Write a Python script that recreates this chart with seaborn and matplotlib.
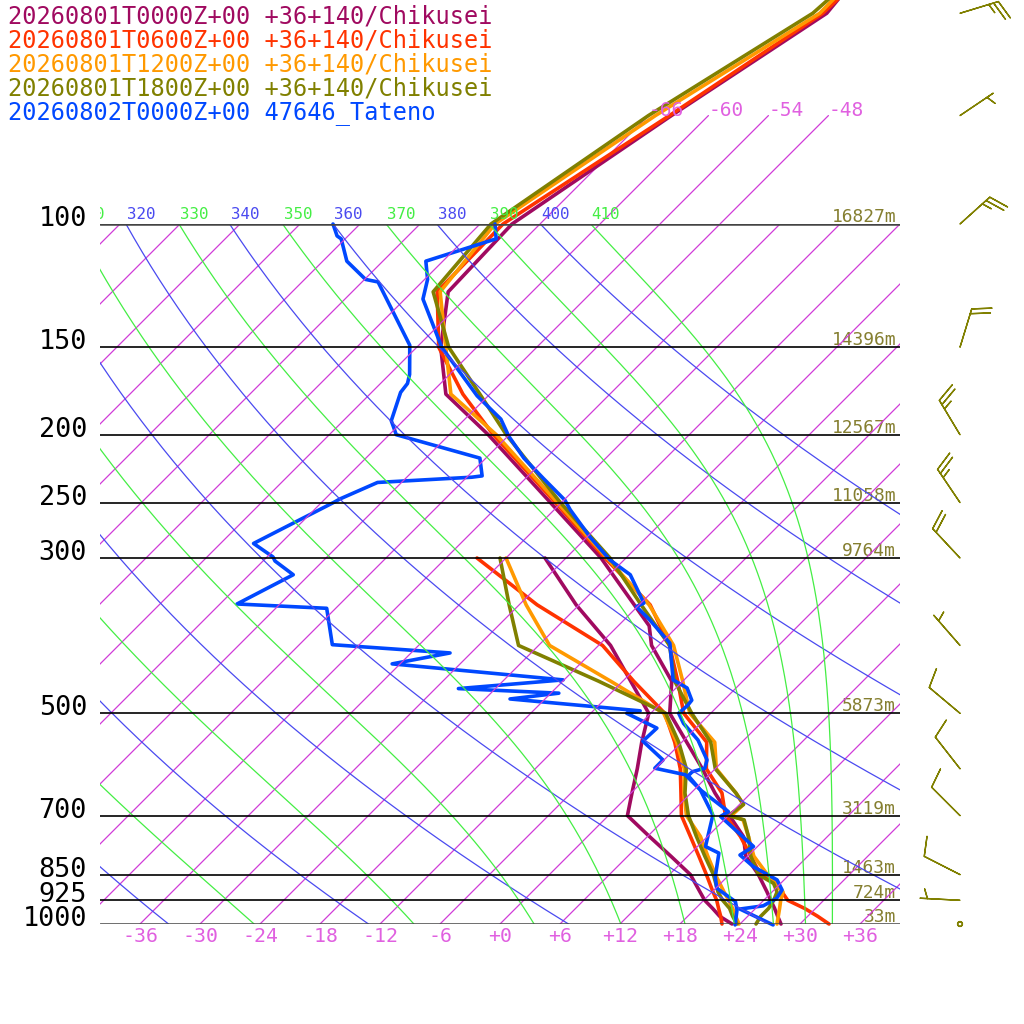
import numpy as np
import matplotlib
matplotlib.use("Agg")
import matplotlib.pyplot as plt
import seaborn as sns
from matplotlib.transforms import Bbox, TransformedBbox

# ---------------- data ----------------
run_names = ["20260801T0000Z+00 +36+140/Chikusei",
             "20260801T0600Z+00 +36+140/Chikusei",
             "20260801T1200Z+00 +36+140/Chikusei",
             "20260801T1800Z+00 +36+140/Chikusei",
             "20260802T0000Z+00 47646_Tateno"]
run_colors = ["#a00a60", "#ff3300", "#ff9900", "#808000", "#0048ff"]

# model temperature profiles (hPa, degC)
t00_p = [1000, 975, 950, 925, 900, 850, 800, 750, 700, 650, 600, 550, 500, 450, 400, 375,
         300, 250, 200, 175, 150, 125, 100, 70, 50, 30]
t00_t = [28.1, 27.0, 25.9, 24.7, 23.5, 20.9, 17.8, 15.6, 12.1, 8.4, 4.7, 0.5, -4.1, -7.1, -12.7, -14.9,
         -26.5, -37.1, -50.1, -58.4, -63.6, -68.4, -68.8, -63.7, -58.4, -61.1]
t06_p = [1000, 975, 950, 925, 900, 875, 850, 800, 750, 700, 650, 600, 550, 500, 450, 400, 350,
         300, 250, 200, 175, 150, 125, 100, 70, 50, 30]
t06_t = [32.9, 31.0, 28.9, 26.4, 25.0, 23.6, 21.1, 18.3, 15.3, 11.7, 9.1, 5.1, 2.5, -2.7, -6.5, -10.9, -16.9,
         -26.1, -36.6, -49.6, -56.7, -63.8, -69.5, -69.7, -63.9, -58.8, -57.9]
t12_p = [1000, 950, 925, 900, 850, 800, 750, 710, 700, 675, 650, 600, 550, 500, 450, 400, 350,
         300, 250, 200, 175, 150, 125, 100, 70, 50, 30]
t12_t = [27.7, 26.4, 25.7, 25.1, 21.8, 18.6, 16.1, 13.9, 12.3, 12.4, 10.5, 6.1, 3.3, -2.1, -6.0, -10.5, -17.0,
         -25.9, -36.4, -49.3, -57.9, -63.1, -69.2, -70.5, -65.3, -59.1, -59.4]
t18_p = [1000, 975, 950, 925, 900, 875, 850, 800, 750, 710, 700, 675, 650, 600, 550, 500, 450, 400, 350,
         300, 250, 200, 175, 150, 125, 100, 70, 50, 30]
t18_t = [25.6, 25.3, 25.3, 25.0, 24.5, 23.3, 20.9, 18.3, 16.1, 14.0, 12.0, 12.4, 10.5, 6.0, 2.9, -1.9, -6.8, -10.9, -17.8,
         -25.6, -36.1, -48.3, -55.0, -62.8, -69.9, -70.9, -66.0, -59.8, -57.8]

# model dewpoint profiles (1000-300 hPa)
td_p = [1000, 975, 950, 925, 900, 850, 800, 750, 700, 650, 600, 550, 500, 450, 400, 350, 300]
t00_td = [23.2, 21.2, 19.7, 18.1, 16.8, 14.1, 10.3, 6.2, 1.9, 0.1, -1.8, -4.0, -6.2, -11.2, -16.8, -24.3, -32.1]
t06_td = [22.2, 21.3, 20.3, 19.3, 18.1, 15.7, 13.1, 10.3, 7.3, 5.0, 2.5, -0.7, -4.6, -10.9, -17.6, -28.2, -38.9]
t12_td = [23.9, 22.8, 21.7, 20.5, 19.2, 16.6, 14.0, 11.3, 7.8, 5.3, 2.9, -0.5, -4.7, -13.2, -22.9, -29.3, -36.0]
t18_td = [23.7, 22.5, 21.4, 19.9, 18.6, 16.4, 13.7, 10.9, 8.0, 5.4, 3.1, -0.3, -4.5, -14.4, -26.0, -31.0, -36.6]

# Tateno sounding
obs_t_p = [1003, 952, 942, 919, 894, 865, 828, 797, 775, 702, 691, 683, 643, 614, 606, 599, 583, 546, 517,
           500, 487, 479, 460, 448, 397, 368, 352, 348, 317, 302, 280, 256, 248, 231, 216, 201, 190, 176,
           150, 128, 120, 113, 105, 100]
obs_t_t = [27.4, 22.5, 24.5, 25.1, 24.8, 23.3, 19.6, 17.1, 17.6, 11.3, 11.6, 10.8, 6.6, 4.0, 4.0, 4.9, 4.3, 1.4, -1.7,
           -3.2, -3.1, -3.2, -4.9, -7.1, -11.1, -15.4, -18.1, -17.7, -21.9, -25.4, -29.7, -34.4, -35.9, -40.2, -44.2,
           -47.9, -50.4, -55.1, -63.5, -70.2, -71.7, -73.7, -68.9, -70.5]
obs_d_p = [1003, 955, 929, 889, 856, 792, 775, 699, 643, 612, 599, 583, 548, 525, 500, 496, 477, 468, 461,
           448, 425, 410, 399, 354, 349, 317, 303, 299, 286, 250, 247, 234, 230, 229, 216, 200, 191, 174,
           169, 164, 149, 121, 120, 113, 105, 104, 100]
obs_d_t = [23.6, 22.3, 21.3, 18.1, 16.8, 14.8, 12.8, 10.4, 6.6, 3.6, -0.1, -0.1, -4.0, -3.9, -8.4, -7.3, -21.5, -17.2,
           -27.7, -18.1, -36.8, -32.1, -44.7, -48.9, -58.3, -55.6, -58.8, -59.4, -62.7, -58.8, -58.5, -56.4, -47.5,
           -46.6, -48.6, -59.3, -61.2, -63.1, -63.3, -64.0, -66.9, -76.4, -77.9, -81.6, -84.4, -85.1, -86.7]

# wind (last model run)
wind_p = [50, 70, 100, 150, 200, 250, 300, 400, 500, 600, 700, 850, 925, 1000]
wind_dir = [73, 56, 48, 17, 329, 326, 317, 319, 310, 322, 315, 297, 273, 0]
wind_kt = [25, 5, 25, 20, 25, 25, 20, 5, 10, 10, 10, 10, 5, 0]

# axis decorations
p_levels = [100, 150, 200, 250, 300, 500, 700, 850, 925, 1000]
heights = ["16827m", "14396m", "12567m", "11058m", "9764m", "5873m", "3119m", "1463m", "724m", "33m"]
t_ticks = [-36, -30, -24, -18, -12, -6, 0, 6, 12, 18, 24, 30, 36]
top_isotherms = [-66, -60, -54, -48]

# ---------------- helpers ----------------
SKEW = 70.0


def skew_x(t, p):
    return np.asarray(t, float) + SKEW * np.log10(1000.0 / np.asarray(p, float))


def theta_e(tk, p):
    tc = tk - 273.15
    es = 6.112 * np.exp(17.67 * tc / (tc + 243.5))
    r = 622.0 * es / (p - es)
    th = tk * (1000.0 / p) ** (0.2854 * (1 - 0.28e-3 * r)) * \
        np.exp((3.376 / tk - 0.00254) * r * (1 + 0.81e-3 * r))
    return np.where(es < 0.5 * p, th, 1e9)


def moist_t(the, p):
    lo = np.full_like(p, 150.0)
    hi = np.full_like(p, 330.0)
    for _ in range(60):
        mid = 0.5 * (lo + hi)
        up = theta_e(mid, p) > the
        hi = np.where(up, mid, hi)
        lo = np.where(up, lo, mid)
    return 0.5 * (lo + hi) - 273.15


sns.set_style("white")
plt.rcParams["font.family"] = ["DejaVu Sans Mono", "DejaVu Sans"]

fig = plt.figure(figsize=(10.24, 10.24), dpi=100)
ax = fig.add_axes([0, 0, 1, 1])
box = fig.add_axes([100 / 1024, 100 / 1024, 800 / 1024, 700 / 1024])
for a in (ax, box):
    a.set_yscale("log")
    a.axis("off")
    a.patch.set_alpha(0)

pp = np.geomspace(100, 1000, 300)
mag = "#d03cd8"
blue_ad = "#4a4af0"
green_ad = "#44ee44"

# isotherms
for t in range(-114, 42, 6):
    box.plot(skew_x(t, pp), pp, color=mag, lw=0.9)
for t in top_isotherms:
    pe = np.array([100.0, 70.0])
    ax.plot(skew_x(t, pe), pe, color=mag, lw=0.9)
    ax.annotate(f"{t:d}", xy=(skew_x(t, 70), 70), xytext=(0, 0), textcoords="offset pixels",
                ha="left", va="baseline", fontsize=14, color="#e060e0")

# labels on the 100 hPa line are clipped to the plotting box
clip = TransformedBbox(Bbox([[100 / 1024, 0], [900 / 1024, 1]]), fig.transFigure)


def top_label(text, x, color):
    lab = ax.annotate(text, xy=(x, 100), xytext=(1, 5), textcoords="offset pixels",
                      ha="left", va="baseline", fontsize=11.4, color=color)
    lab.set_clip_box(clip)
    lab.set_clip_on(True)


# dry adiabats
for th in range(200, 401, 20):
    tt = th * (pp / 1000.0) ** 0.2857 - 273.15
    box.plot(skew_x(tt, pp), pp, color=blue_ad, lw=0.9)
    if th >= 310:
        top_label(str(th), skew_x(th * 0.1 ** 0.2857 - 273.15, 100), blue_ad)

# moist adiabats
for the in range(210, 411, 20):
    tt = moist_t(the, pp)
    box.plot(skew_x(tt, pp), pp, color=green_ad, lw=0.9)
    if the >= 310:
        top_label(str(the), skew_x(tt[0], 100), green_ad)

# pressure lines and labels
for p, h in zip(p_levels, heights):
    edge = p in (100, 1000)
    box.axhline(p, color="#444444" if edge else "black", lw=1.8 if edge else 1.2)
    ax.annotate(str(p), xy=(-41.3, p), xytext=(0, -2), textcoords="offset pixels",
                ha="right", va="baseline", fontsize=19.4, color="black")
    ax.annotate(h, xy=(39.6, p), xytext=(0, 2), textcoords="offset pixels",
                ha="right", va="baseline", fontsize=12.9, color="#857f30")

for t in t_ticks:
    ax.annotate(f"{t:+d}", xy=(t, 1000), xytext=(0, -12), textcoords="offset pixels",
                ha="center", va="center", fontsize=14.3, color="#e060e0")

# profiles
profiles = [(t00_p, t00_t, td_p, t00_td), (t06_p, t06_t, td_p, t06_td),
            (t12_p, t12_t, td_p, t12_td), (t18_p, t18_t, td_p, t18_td),
            (obs_t_p, obs_t_t, obs_d_p, obs_d_t)]
for (tp, tv, dp, dv), col in zip(profiles, run_colors):
    sns.lineplot(x=skew_x(tv, tp), y=np.asarray(tp, float), sort=False, estimator=None,
                 color=col, lw=2.6, ax=ax, legend=False)
    sns.lineplot(x=skew_x(dv, dp), y=np.asarray(dp, float), sort=False, estimator=None,
                 color=col, lw=2.6, ax=ax, legend=False)

# wind barbs
wd = np.deg2rad(wind_dir)
u = -np.asarray(wind_kt) * np.sin(wd)
v = -np.asarray(wind_kt) * np.cos(wd)
ax.barbs(np.full(len(wind_p), 46.0), wind_p, u, v, length=7.6, pivot="tip", color="#808000",
         linewidth=1.0, sizes=dict(spacing=0.125, height=0.475, width=0.33, emptybarb=0.06))

# run names
for i, (name, col) in enumerate(zip(run_names, run_colors)):
    fig.text(8 / 1024, 1 - (17 + 24 * i) / 1024, name, ha="left", va="center", fontsize=17, color=col)

ax.set_xlim(-50, 52.4)
ax.set_ylim(1000 * 10 ** (100 / 700), 1000 * 10 ** (-924 / 700))
box.set_xlim(-40, 40)
box.set_ylim(1000, 100)

fig.savefig("out.png", dpi=100, facecolor="white")
